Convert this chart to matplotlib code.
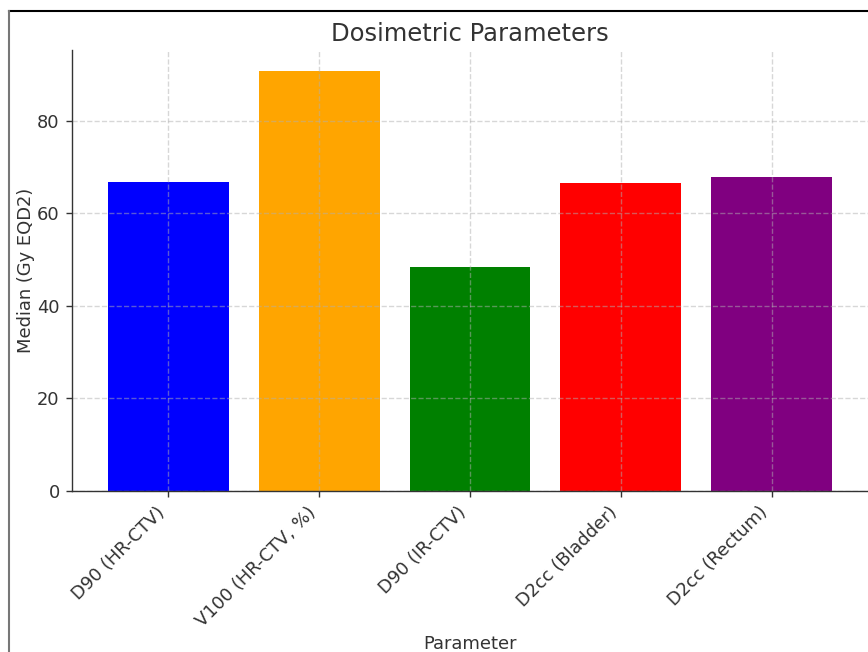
import matplotlib
matplotlib.use("Agg")
import matplotlib.pyplot as plt
from matplotlib.lines import Line2D

# values
parameters = ["D90 (HR-CTV)", "V100 (HR-CTV, %)", "D90 (IR-CTV)",
              "D2cc (Bladder)", "D2cc (Rectum)"]
medians = [66.7, 90.7, 48.4, 66.5, 67.8]
bar_colors = ["blue", "orange", "green", "red", "purple"]

W, H, DPI = 868, 652, 125
dark = "#333333"
plt.rcParams["text.color"] = dark
plt.rcParams["axes.labelcolor"] = dark
plt.rcParams["xtick.color"] = dark
plt.rcParams["ytick.color"] = dark
plt.rcParams["axes.edgecolor"] = dark

fig = plt.figure(figsize=(W / DPI, H / DPI), dpi=DPI)
ax = fig.add_axes([72 / W, 1 - 491 / H, (W - 72) / W, (491 - 50) / H])

ax.bar(parameters, medians, color=bar_colors)
ax.grid(True, linestyle="--", alpha=0.5)
ax.spines["top"].set_visible(False)
ax.spines["right"].set_visible(False)

ax.set_title("Dosimetric Parameters", fontsize=14, pad=5)
ax.set_xlabel("Parameter", fontsize=10.3, labelpad=3)
ax.set_ylabel("Median (Gy EQD2)", fontsize=10.3, labelpad=1)
plt.setp(ax.get_xticklabels(), rotation=45, ha="right", fontsize=10.3)
ax.tick_params(axis="y", labelsize=10.3)

# frame of the cropped screenshot
fig.add_artist(Line2D([9 / W, 1], [1 - 11 / H, 1 - 11 / H],
                      transform=fig.transFigure, color="black", lw=1.2))
fig.add_artist(Line2D([9 / W, 9 / W], [0, 1 - 11 / H],
                      transform=fig.transFigure, color="#777777", lw=1.2))

fig.savefig("out.png", dpi=DPI)
